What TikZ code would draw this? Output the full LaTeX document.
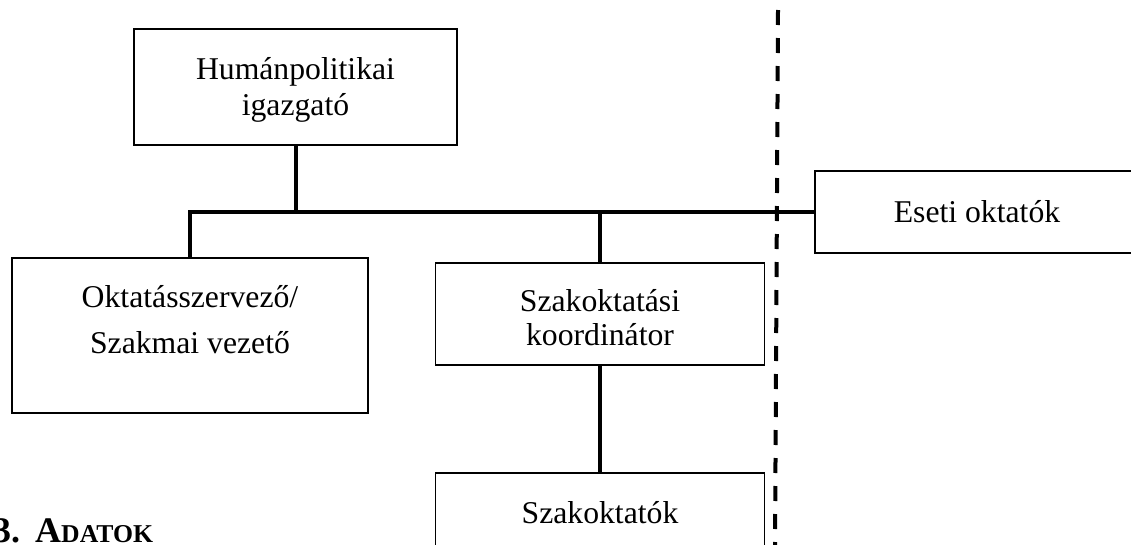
\documentclass[tikz,border=0pt]{standalone}
\usepackage{fontspec}
\setmainfont{Liberation Serif}
\usepackage{tikz}
\usetikzlibrary{calc, positioning}
\newcommand{\topgap}[1]{\rule{0pt}{#1}}

\begin{document}
\begin{tikzpicture}[x=1pt,y=-1pt,
  orgbox/.style={rectangle,draw,line width=1.5pt,align=center,inner sep=0pt,
    font=\fontsize{31.7}{36.5}\selectfont},
  conn/.style={line width=4pt},
  cutline/.style={line width=4pt,dash pattern=on 15pt off 13pt}]
  \useasboundingbox (0,0) rectangle (1131,544);
  % boxes
  \node [orgbox,minimum width=323,minimum height=116] (hum) at (295.5,87) {\topgap{28pt}Humánpolitikai\\igazgató};
  \node [orgbox,minimum width=356,minimum height=155] (okt) at (190,335.5) {Oktatásszervező/\\[9.5pt]Szakmai vezető\rule[-32pt]{0pt}{0pt}};
  \node [orgbox,minimum width=329,minimum height=102] (koord) at (600,314) {\topgap{30pt}Szakoktatási\\[-2.5pt]koordinátor};
  \node [orgbox,minimum width=329,minimum height=80] (szo) at (600,513) {Szakoktatók};
  \node [orgbox,minimum width=324,minimum height=82] (eseti) at (977,212) {Eseti oktatók};
  \node [anchor=base west,inner sep=0pt,font=\bfseries\fontsize{36}{40}\selectfont] (sec) at (-7,542)
    {3.\hspace{15pt}A{\fontsize{25.7}{30}\selectfont DATOK}};
  % lines
  \draw [conn] (okt.north) |- (eseti.west);
  \draw [conn] (hum.south) -- (hum.south |- eseti.west);
  \draw [conn] (koord.north) -- (koord.north |- eseti.west);
  \draw [conn] (koord.south) -- (szo.north);
  \coordinate (cuttop) at (778,10);
  \coordinate (cutbot) at (775,550);
  \draw [cutline] (cuttop) -- (cutbot);
\end{tikzpicture}
\end{document}
